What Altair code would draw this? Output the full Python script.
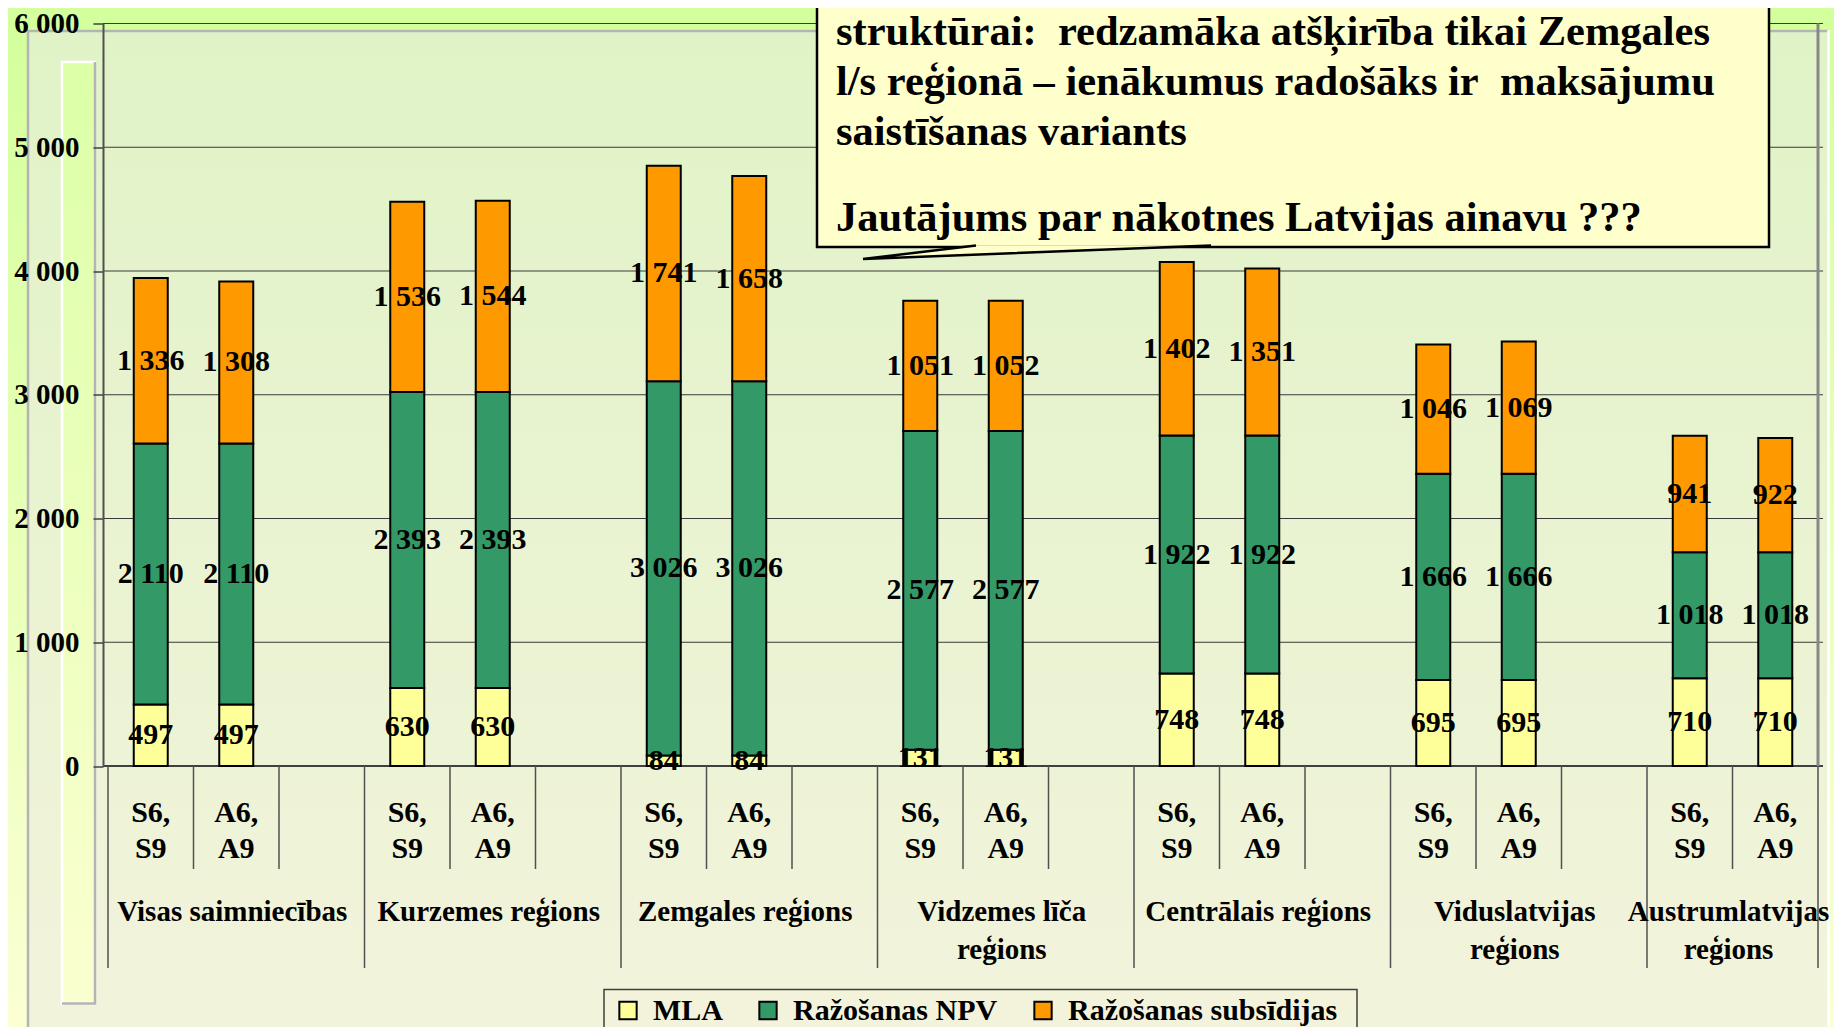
import altair as alt
import pandas as pd

FONT = "Liberation Serif"

# ---------------- data ----------------
groups = ["Visas saimniecības", "Kurzemes reģions", "Zemgales reģions",
          "Vidzemes līča\nreģions", "Centrālais reģions",
          "Viduslatvijas\nreģions", "Austrumlatvijas\nreģions"]
group_slots = [3, 3, 3, 3, 3, 3, 2]
variants = ["S6,\nS9", "A6,\nA9"]
series = ["MLA", "Ražošanas NPV", "Ražošanas subsīdijas"]
colors = ["#ffff99", "#339966", "#ff9900"]

mla = [497, 630, 84, 131, 748, 695, 710]
npv = [2110, 2393, 3026, 2577, 1922, 1666, 1018]
subs_s = [1336, 1536, 1741, 1051, 1402, 1046, 941]
subs_a = [1308, 1544, 1658, 1052, 1351, 1069, 922]

y_ticks = [0, 1000, 2000, 3000, 4000, 5000, 6000]

callout_top = ["struktūrai:\u00a0 redzamāka atšķirība tikai Zemgales",
               "l/s reģionā – ienākumus radošāks ir\u00a0 maksājumu",
               "saistīšanas variants"]
callout_bottom = "Jautājums par nākotnes Latvijas ainavu ???"

# ---------------- tables ----------------
n_slots = sum(group_slots)
bar_rows, tick_rows, group_rows = [], [], []
short_b, long_b = [], []
start = 0
for g, gname in enumerate(groups):
    long_b.append(start)
    for k in range(1, group_slots[g]):
        short_b.append(start + k)
    for v, vname in enumerate(variants):
        slot = start + v
        vals = [mla[g], npv[g], (subs_s if v == 0 else subs_a)[g]]
        for k, s in enumerate(series):
            bar_rows.append(dict(center=slot + 0.5, series=s, ord=k, value=vals[k]))
        tick_rows.append(dict(center=slot + 0.5, text=vname))
    group_rows.append(dict(center=start + group_slots[g] / 2, text=gname))
    start += group_slots[g]
long_b.append(n_slots)

bar_df = pd.DataFrame(bar_rows)
tick_df = pd.DataFrame(tick_rows)
group_df = pd.DataFrame(group_rows)
short_df = pd.DataFrame({"b": short_b})
long_df = pd.DataFrame({"b": long_b})
grid_df = pd.DataFrame({"v": y_ticks})
zero_df = pd.DataFrame({"v": [0]})
edge_df = pd.DataFrame({"b": [n_slots]})
one = pd.DataFrame({"k": [0]})

W, H = 1720, 742.5
xscale = alt.Scale(domain=[0, n_slots], nice=False, zero=False)
yscale = alt.Scale(domain=[0, 6000], nice=False, zero=False)

yaxis = alt.Axis(values=y_ticks, grid=False, domainColor="#505050", domainWidth=2,
                 tickColor="#404040", tickSize=10, tickWidth=1.5,
                 labelFont=FONT, labelFontSize=29, labelFontWeight="bold",
                 labelColor="black", labelPadding=14, title=None, zindex=1,
                 labelExpr="replace(format(datum.value, ','), ',', ' ')")


def grad(c1, c2):
    return alt.LinearGradient(gradient="linear", x1=0, x2=0, y1=0, y2=1,
                              stops=[alt.GradientStop(color=c1, offset=0),
                                     alt.GradientStop(color=c2, offset=1)])


def vrule(x, y1, y2, color, w=2.5):
    return alt.Chart(one).mark_rule(color=color, strokeWidth=w).encode(
        x=alt.value(x), y=alt.value(y1), y2=alt.value(y2))


def hrule(y, x1, x2, color, w=2.5):
    return alt.Chart(one).mark_rule(color=color, strokeWidth=w).encode(
        y=alt.value(y), x=alt.value(x1), x2=alt.value(x2))


# ---------------- decoration ----------------
slide_bg = alt.Chart(one).mark_rect(fill=grad("#d3ff9c", "#fcffd4")).encode(
    x=alt.value(-100), x2=alt.value(W + 20), y=alt.value(-20), y2=alt.value(1010))

frame = alt.Chart(one).mark_rect(fill=grad("#e0f3c7", "#f3f3dc")).encode(
    x=alt.value(-75), x2=alt.value(1725), y=alt.value(7.5), y2=alt.value(1030))
frame_top = hrule(7.5, -76, 1726, "#b4b4b4")
frame_left = vrule(-75, 6.5, 1030, "#b4b4b4")
frame_right = vrule(1725.5, 6.5, 1030, "#ffffff")

strip = alt.Chart(one).mark_rect(fill=grad("#dcffa8", "#fbffd0"), stroke="#ffffff",
                                 strokeWidth=2.5).encode(
    x=alt.value(-41), x2=alt.value(-8), y=alt.value(38.5), y2=alt.value(979.5))
strip_r = vrule(-8, 38.5, 980.5, "#b4b4b4")
strip_b = hrule(980, -41, -7, "#b4b4b4")

grid = alt.Chart(grid_df).mark_rule(color="#3a3a3a", strokeWidth=1).encode(
    x=alt.value(0), x2=alt.value(W),
    y=alt.Y("v:Q", scale=yscale, axis=yaxis))
zero_line = alt.Chart(zero_df).mark_rule(color="#404040", strokeWidth=2).encode(
    x=alt.value(0), x2=alt.value(W), y=alt.Y("v:Q", scale=yscale, axis=yaxis))

right_border = alt.Chart(edge_df).mark_rule(color="#888888", strokeWidth=3).encode(
    x=alt.X("b:Q", scale=xscale, axis=None), y=alt.value(0), y2=alt.value(H))

short_rules = alt.Chart(short_df).mark_rule(color="#505050", strokeWidth=1.5).encode(
    x=alt.X("b:Q", scale=xscale, axis=None), y=alt.value(H), y2=alt.value(H + 103))
long_rules = alt.Chart(long_df).mark_rule(color="#505050", strokeWidth=1.5).encode(
    x=alt.X("b:Q", scale=xscale, axis=None), y=alt.value(H), y2=alt.value(H + 202))

# ---------------- bars ----------------
legend = alt.Legend(orient="none", legendX=510, legendY=972, direction="horizontal",
                    title=None, labelFont=FONT, labelFontSize=30, labelFontWeight="bold",
                    labelColor="black", labelLimit=600,
                    symbolType="square", symbolSize=300,
                    symbolStrokeColor="black", symbolStrokeWidth=2,
                    columnPadding=30, labelOffset=10, padding=0)

base = alt.Chart(bar_df).transform_stack(
    stack="value", groupby=["center"], as_=["v0", "v1"],
    sort=[alt.SortField("ord", order="ascending")]
).transform_calculate(
    mid="(datum.v0 + datum.v1) / 2",
    label="replace(format(datum.value, ','), ',', ' ')")

bars = base.mark_bar(size=34, stroke="black", strokeWidth=2, opacity=1).encode(
    x=alt.X("center:Q", scale=xscale, axis=None),
    y=alt.Y("v0:Q", scale=yscale, axis=yaxis),
    y2="v1:Q",
    color=alt.Color("series:N", scale=alt.Scale(domain=series, range=colors),
                    sort=series, legend=legend))

bar_labels = base.mark_text(font=FONT, fontSize=30, fontWeight="bold", color="black",
                            align="center", baseline="middle").encode(
    x=alt.X("center:Q", scale=xscale, axis=None),
    y=alt.Y("mid:Q", scale=yscale, axis=yaxis),
    text="label:N")

tick_labels = alt.Chart(tick_df).mark_text(
    font=FONT, fontSize=30, fontWeight="bold", color="black", align="center",
    baseline="alphabetic", lineBreak="\n", lineHeight=36).encode(
    x=alt.X("center:Q", scale=xscale, axis=None), y=alt.value(798), text="text:N")

group_labels = alt.Chart(group_df).mark_text(
    font=FONT, fontSize=29, fontWeight="bold", color="black", align="center",
    baseline="alphabetic", lineBreak="\n", lineHeight=38, dx=-4).encode(
    x=alt.X("center:Q", scale=xscale, axis=None), y=alt.value(897), text="text:N")

legend_box = alt.Chart(one).mark_rect(fill="#f3f3dc", stroke="#404040", strokeWidth=1.5).encode(
    x=alt.value(501), x2=alt.value(1254), y=alt.value(966), y2=alt.value(1040))

# ---------------- callout ----------------
callout_box = alt.Chart(one).mark_rect(fill="#ffffcc", stroke="black", strokeWidth=2.5).encode(
    x=alt.value(714), x2=alt.value(1666), y=alt.value(-60), y2=alt.value(223.5))
wedge = alt.Chart(one).mark_point(
    shape="M113,-13.5L0,0L348,-13.5", size=4, filled=True, fill="#ffffcc",
    stroke="black", strokeWidth=2.5, opacity=1).encode(
    x=alt.value(760), y=alt.value(235.5))
callout_text1 = alt.Chart(one).mark_text(
    font=FONT, fontSize=42.5, fontWeight="bold", color="black", align="left",
    baseline="alphabetic", lineBreak="\n", lineHeight=50).encode(
    x=alt.value(733), y=alt.value(21.5), text=alt.value("\n".join(callout_top)))
callout_text2 = alt.Chart(one).mark_text(
    font=FONT, fontSize=42.5, fontWeight="bold", color="black", align="left",
    baseline="alphabetic").encode(
    x=alt.value(733), y=alt.value(207.5), text=alt.value(callout_bottom))

chart = alt.layer(
    slide_bg, frame, frame_top, frame_left, frame_right, strip, strip_r, strip_b,
    grid, zero_line, right_border, short_rules, long_rules, bars, bar_labels,
    tick_labels, group_labels, legend_box, callout_box, wedge, callout_text1,
    callout_text2
).properties(
    width=W, height=H,
    autosize=alt.AutoSizeParams(type="none"),
    padding={"left": 95, "top": 15.5, "right": 11, "bottom": 261},
).configure_view(stroke=None).configure(background="#e6ffbb")

chart.save("out.html", embed_options={"renderer": "svg", "actions": False})
